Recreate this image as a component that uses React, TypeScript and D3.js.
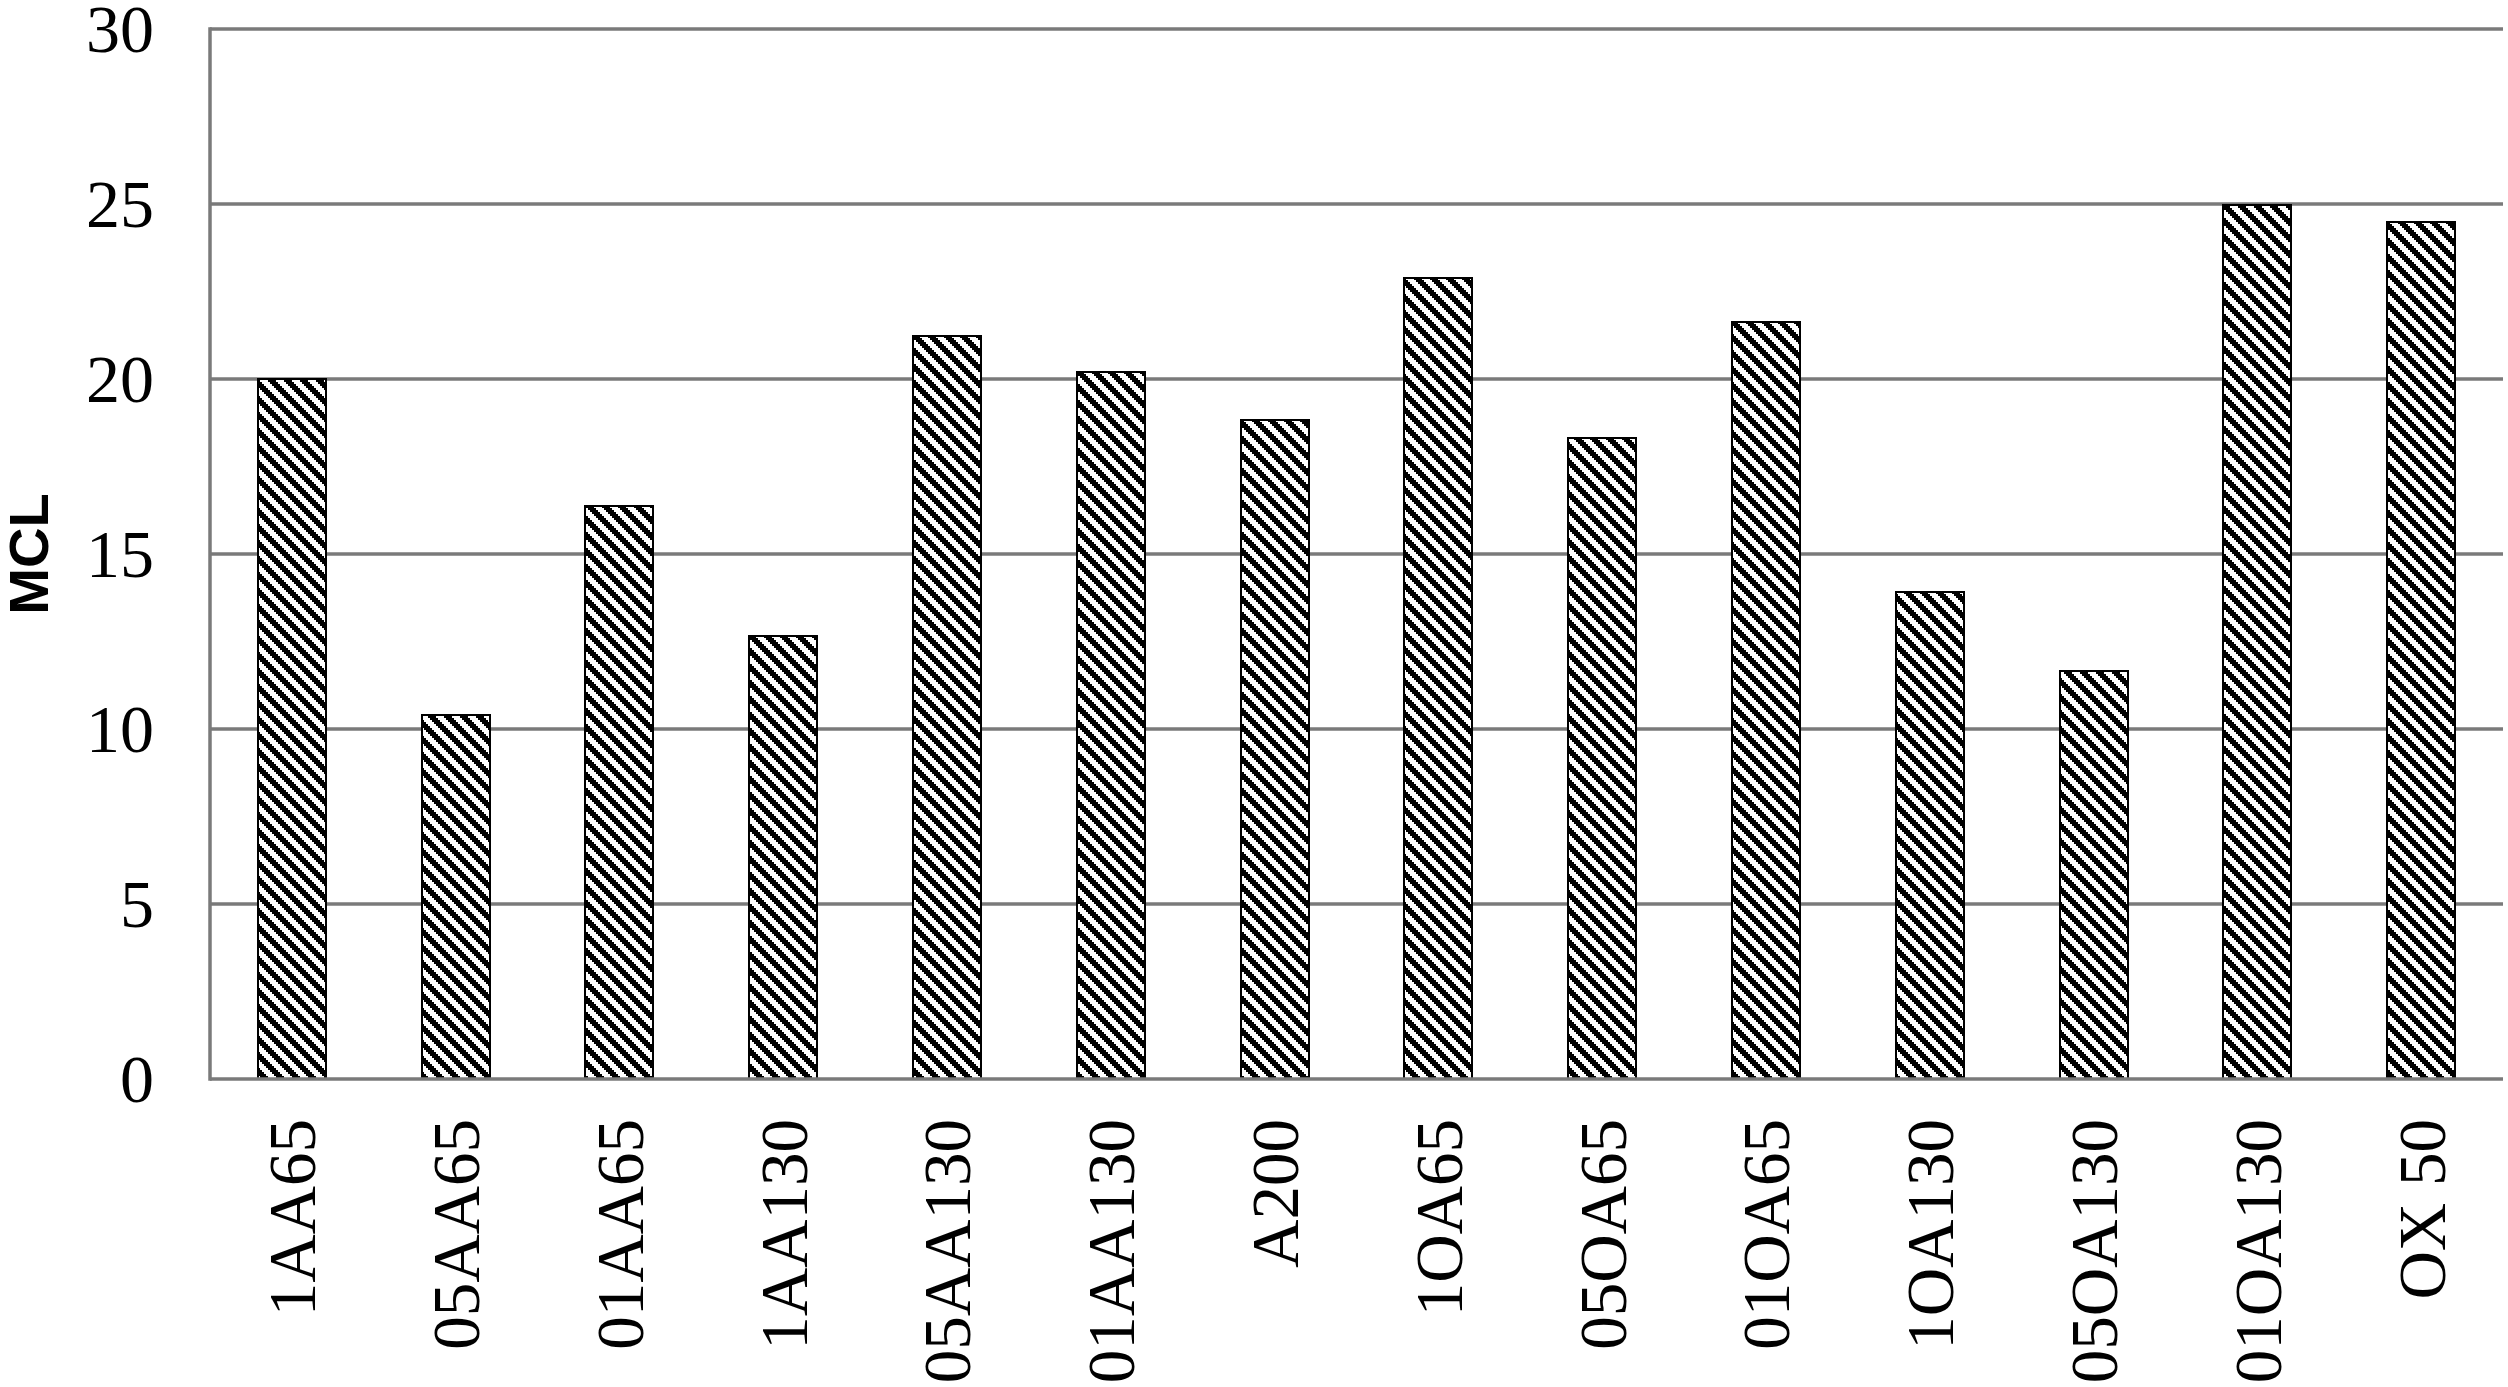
import React from "react";
import * as d3 from "d3";

const categories = [
  "1AA65", "05AA65", "01AA65", "1AA130", "05AA130", "01AA130", "A200",
  "1OA65", "05OA65", "01OA65", "1OA130", "05OA130", "01OA130", "OX 50",
];
const mclValues = [
  20.0, 10.4, 16.37, 12.67, 21.23, 20.2, 18.82,
  22.89, 18.32, 21.64, 13.92, 11.65, 24.98, 24.49,
];
const yTicks = [0, 5, 10, 15, 20, 25, 30];
const yTitle = "MCL";

const W = 2508;
const H = 1387;
const left = 210;
const right = 2503;
const top = 29;
const bottom = 1079;

export default function App() {
  const x = d3.scaleBand<string>().domain(categories).range([left, right]).paddingInner(0.585).paddingOuter(0.2925);
  const y = d3.scaleLinear().domain([0, 30]).range([bottom, top]);
  const bw = x.bandwidth();

  const cells: React.ReactNode[] = [];
  for (let r = 0; r < 8; r++) {
    for (let k = 0; k < 4; k++) {
      const c = (r + k) % 8;
      cells.push(<rect key={`${r}-${k}`} x={c * 2} y={r * 2} width={2} height={2} fill="#000" />);
    }
  }

  return (
    <div style={{ position: "absolute", left: 0, top: 0 }}>
      <svg width={W} height={H} style={{ display: "block", background: "#fff" }}>
        <defs>
          <pattern id="diag" patternUnits="userSpaceOnUse" width={16} height={16}>
            <rect x={0} y={0} width={16} height={16} fill="#fff" />
            {cells}
          </pattern>
        </defs>
        <rect x={0} y={0} width={W} height={H} fill="#fff" />
        {yTicks.map((t) => (
          <g key={t}>
            {t > 0 && (
              <line x1={left} x2={right} y1={y(t)} y2={y(t)} stroke="#7a7a7a" strokeWidth={3.5} />
            )}
            <text
              x={left - 56}
              y={y(t)}
              dy="0.34em"
              textAnchor="end"
              fontFamily="'Liberation Serif', 'Times New Roman', serif"
              fontSize={68}
              fill="#000"
            >
              {t}
            </text>
          </g>
        ))}
        {categories.map((c, i) => (
          <rect
            key={c}
            x={(x(c) as number)}
            y={y(mclValues[i])}
            width={bw}
            height={y(0) - y(mclValues[i])}
            fill="url(#diag)"
            stroke="#000"
            strokeWidth={2}
            shapeRendering="crispEdges"
          />
        ))}
        <line x1={left} x2={left} y1={top - 1.75} y2={bottom + 1.75} stroke="#7a7a7a" strokeWidth={3.5} />
        <line x1={left} x2={right} y1={bottom} y2={bottom} stroke="#7a7a7a" strokeWidth={3.5} />
        {categories.map((c) => {
          const cx = (x(c) as number) + bw / 2;
          const ty = 1119;
          return (
            <text
              key={c}
              transform={`translate(${cx},${ty}) rotate(-90)`}
              dy="0.35em"
              textAnchor="end"
              fontFamily="'Liberation Serif', 'Times New Roman', serif"
              fontSize={67}
              fill="#000"
            >
              {c}
            </text>
          );
        })}
        <text
          transform={`translate(48,${(top + bottom) / 2}) rotate(-90)`}
          textAnchor="middle"
          fontFamily="'Liberation Sans', Arial, sans-serif"
          fontWeight="bold"
          fontSize={56}
          fill="#000"
        >
          {yTitle}
        </text>
      </svg>
    </div>
  );
}
